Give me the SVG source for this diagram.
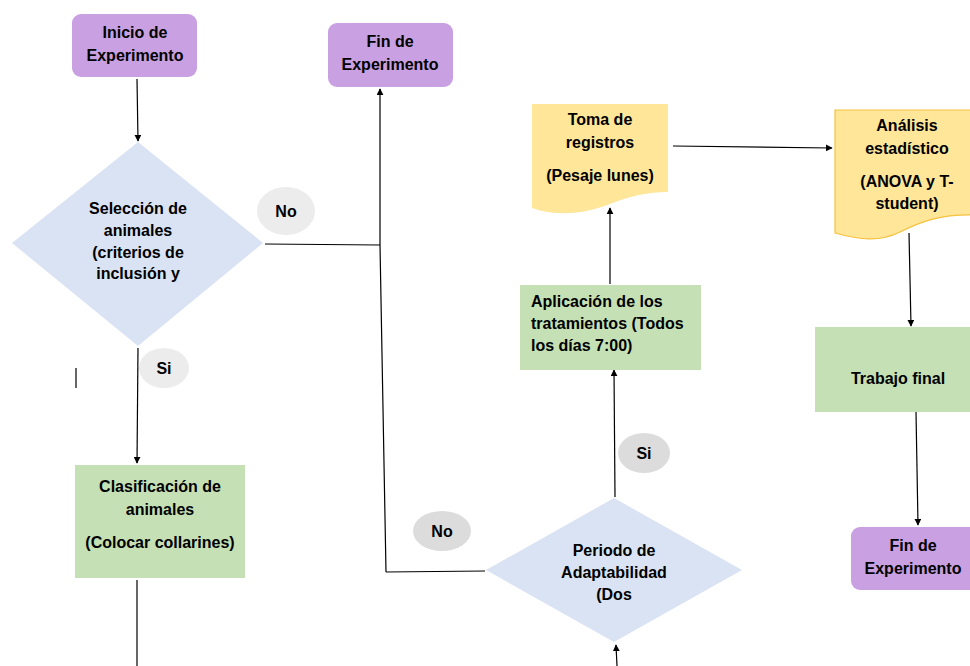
<svg xmlns="http://www.w3.org/2000/svg" width="970" height="666" viewBox="0 0 970 666">
<defs>
<marker id="ah" viewBox="0 0 10 10" refX="9" refY="5" markerWidth="7" markerHeight="7" markerUnits="userSpaceOnUse" orient="auto">
<path d="M0,0 L10,5 L0,10 z" fill="#000"/>
</marker>
<style>
.t{font-family:"Liberation Sans",Arial,sans-serif;font-weight:bold;font-size:16px;fill:#000;text-anchor:middle}
.tl{text-anchor:start}
.term{fill:#c9a0e1}
.proc{fill:#c5e0b4}
.dec{fill:#dae3f3}
.doc{fill:#ffe699}
.lbl{fill:#ececec}
.lbl2{fill:#dcdcdc}
.ln{stroke:#000;stroke-width:1.2;fill:none}
</style>
</defs>
<rect width="970" height="666" fill="#fff"/>

<g id="connectors">
<path class="ln" d="M137,79 L138,141" marker-end="url(#ah)"/>
<path class="ln" d="M265,244 L380,245"/>
<path class="ln" d="M386,572 L380,245 L380,89" marker-end="url(#ah)"/>
<path class="ln" d="M386,572 L485,571"/>
<path class="ln" d="M138,348 L137,463" marker-end="url(#ah)"/>
<path class="ln" d="M137,580 L137,666"/>
<path class="ln" d="M617,666 L616,645" marker-end="url(#ah)"/>
<path class="ln" d="M615,497 L614,370" marker-end="url(#ah)"/>
<path class="ln" d="M610,284 L610,208" marker-end="url(#ah)"/>
<path class="ln" d="M673,146 L832,148" marker-end="url(#ah)"/>
<path class="ln" d="M909,233 L911,326" marker-end="url(#ah)"/>
<path class="ln" d="M916,412 L918,525" marker-end="url(#ah)"/>
<path d="M76,368 L76,388" stroke="#333" stroke-width="1.5"/>
</g>

<g id="inicio">
<rect class="term" x="72" y="14" width="125" height="63" rx="9"/>
<text class="t" x="135" y="38">Inicio de</text>
<text class="t" x="135" y="61">Experimento</text>
</g>

<g id="fin1">
<rect class="term" x="328" y="23" width="125" height="64" rx="9"/>
<text class="t" x="390" y="47">Fin de</text>
<text class="t" x="390" y="70">Experimento</text>
</g>

<g id="seleccion">
<polygon class="dec" points="138,142 263,243 138,346 12,243"/>
<text class="t" x="138" y="214">Selección de</text>
<text class="t" x="138" y="236">animales</text>
<text class="t" x="138" y="258">(criterios de</text>
<text class="t" x="138" y="279">inclusión y</text>
</g>

<g id="no1">
<ellipse class="lbl" cx="286" cy="211" rx="29" ry="24"/>
<text class="t" x="286" y="217">No</text>
</g>

<g id="si1">
<ellipse class="lbl" cx="164" cy="368" rx="25" ry="20"/>
<text class="t" x="164" y="374">Si</text>
</g>

<g id="clasificacion">
<rect class="proc" x="75" y="465" width="170" height="113"/>
<text class="t" x="160" y="492">Clasificación de</text>
<text class="t" x="160" y="515">animales</text>
<text class="t" x="160" y="548">(Colocar collarines)</text>
</g>

<g id="no2">
<ellipse class="lbl2" cx="442" cy="531" rx="29" ry="20"/>
<text class="t" x="442" y="537">No</text>
</g>

<g id="periodo">
<polygon class="dec" points="614,498 742,570 614,642 486,570"/>
<text class="t" x="614" y="556">Periodo de</text>
<text class="t" x="614" y="578">Adaptabilidad</text>
<text class="t" x="614" y="600">(Dos</text>
</g>

<g id="si2">
<ellipse class="lbl2" cx="644" cy="453" rx="26" ry="20"/>
<text class="t" x="644" y="459">Si</text>
</g>

<g id="aplicacion">
<rect class="proc" x="520" y="285" width="181" height="85"/>
<text class="t tl" x="531" y="307">Aplicación de los</text>
<text class="t tl" x="531" y="329">tratamientos (Todos</text>
<text class="t tl" x="531" y="351">los días 7:00)</text>
</g>

<g id="toma">
<path class="doc" d="M532,104 L668,104 L668,192 C648,192 630,196 610,204 C590,212 560,218 532,208 Z"/>
<text class="t" x="600" y="125">Toma de</text>
<text class="t" x="600" y="148">registros</text>
<text class="t" x="600" y="181">(Pesaje lunes)</text>
</g>

<g id="analisis">
<path class="doc" d="M835,110 L975,110 L975,215 C940,214 920,222 900,232 C880,242 860,240 835,233 Z" stroke="#f5c13e" stroke-width="1.2"/>
<text class="t" x="907" y="131">Análisis</text>
<text class="t" x="907" y="154">estadístico</text>
<text class="t" x="907" y="187">(ANOVA y T-</text>
<text class="t" x="907" y="209">student)</text>
</g>

<g id="trabajo">
<rect class="proc" x="815" y="327" width="160" height="85"/>
<text class="t" x="898" y="384">Trabajo final</text>
</g>

<g id="fin2">
<rect class="term" x="851" y="527" width="130" height="63" rx="9"/>
<text class="t" x="913" y="551">Fin de</text>
<text class="t" x="913" y="574">Experimento</text>
</g>
</svg>
